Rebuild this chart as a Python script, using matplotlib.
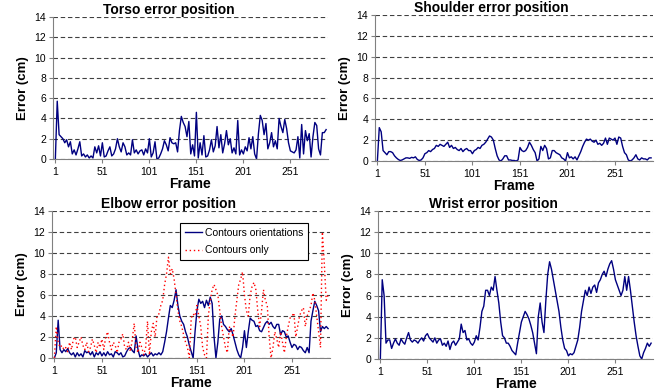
import matplotlib
matplotlib.use("Agg")
import matplotlib.pyplot as plt
import numpy as np

plt.rcParams['font.family'] = ['Liberation Sans', 'DejaVu Sans']

# error values, one every 2 frames (frames 1, 3, 5, ...)
torso = [0, 5.7, 2.4, 2.2, 2.0, 1.6, 1.9, 1.2, 1.7, 0.5, 0.9, 0.4, 1.0, 1.7, 0.3, 0.5, 0.2, 0.4, 0.1, 0.3,
         0.1, 1.2, 0.6, 1.3, 0.3, 1.6, 0.2, 0.3, 0.8, 1.2, 0.3, 0.5, 1.0, 2.0, 1.2, 0.7, 1.6, 1.2, 0.4, 0.6,
         0.4, 1.9, 0.6, 0.9, 0.5, 0.8, 0.9, 0.4, 1.0, 0.6, 2.0, 0.2, 0.6, 1.7, 0.0, 0.1, 0.5, 1.0, 1.8, 1.4,
         0.8, 2.1, 1.6, 1.5, 1.6, 0.7, 2.8, 4.2, 3.6, 3.2, 2.2, 3.7, 0.5, 1.4, 0.3, 4.6, 0.1, 1.6, 0.4, 2.3,
         0.2, 0.3, 0.9, 1.9, 0.7, 1.3, 3.2, 1.1, 2.4, 0.6, 1.5, 2.8, 1.4, 2.0, 0.6, 1.1, 0.5, 3.8, 0.4, 0.9,
         0.5, 1.2, 0.8, 2.1, 1.0, 2.2, 0.5, 0.0, 2.5, 4.3, 3.8, 2.4, 3.5, 1.0, 1.6, 2.6, 1.2, 1.8, 1.0, 4.0,
         3.2, 2.6, 3.9, 3.0, 1.6, 0.8, 0.7, 0.6, 0.9, 2.2, 0.1, 3.4, 0.5, 2.8, 1.8, 2.5, 0.2, 2.2, 3.6, 3.3,
         1.0, 0.4, 2.6, 2.6, 2.9]

shoulder = [0, 3.2, 2.8, 1.0, 0.8, 0.6, 0.9, 0.9, 0.8, 0.5, 0.3, 0.15, 0.05, 0.1, 0.2, 0.3, 0.3, 0.25, 0.35, 0.3,
            0.4, 0.15, 0.05, 0.1, 0.3, 0.7, 0.8, 1.0, 0.9, 1.1, 1.2, 1.5, 1.4, 1.6, 1.5, 1.4, 1.6, 1.8, 1.3, 1.5,
            1.2, 1.3, 1.1, 1.0, 1.2, 0.9, 1.1, 1.2, 1.0, 1.0, 0.7, 1.0, 1.1, 1.3, 1.2, 1.5, 1.6, 1.8, 2.1, 2.4,
            2.3, 2.0, 1.2, 0.5, 0.1, 0.0, 0.2, 0.5, 0.5, 0.1, 0.1, 0.05, 0.05, 0.0, 0.1, 1.3, 1.0, 0.9, 1.0, 1.3,
            1.8, 1.5, 1.1, 0.8, 0.0, 0.2, 1.4, 1.0, 1.5, 1.2, 0.2, 0.3, 1.0, 1.0, 0.8, 0.7, 0.6, 0.3, 0.2, 0.0,
            0.8, 0.3, 0.4, 0.2, 0.4, 0.1, 0.5, 0.9, 1.4, 1.8, 2.1, 2.0, 2.1, 1.9, 1.8, 2.0, 1.6, 1.7, 1.5, 1.7,
            2.2, 1.6, 2.2, 2.1, 2.0, 2.2, 1.6, 2.3, 2.2, 1.4, 0.8, 0.6, 0.1, 0.0, 0.1, 0.3, 0.6, 0.2, 0.1, 0.3,
            0.2, 0.2, 0.1, 0.3, 0.3]

elbow_orient = [0, 0.5, 3.6, 0.8, 0.5, 0.8, 0.6, 0.9, 0.5, 0.3, 0.5, 0.1, 0.5, 0.2, 0.4, 0.1, 0.7, 0.5, 0.6, 0.3,
                0.6, 0.1, 0.5, 0.3, 0.6, 0.2, 0.5, 0.2, 0.6, 0.3, 0.4, 0.1, 0.6, 0.5, 0.3, 0.5, 0.1, 0.2, 0.6, 0.9,
                1.0, 0.7, 0.5, 2.1, 0.8, 0.1, 0.3, 0.2, 0.4, 0.1, 0.3, 0.5, 0.2, 0.4, 0.3, 0.5, 0.3, 0.6, 1.5, 2.5,
                3.8, 5.0, 4.8, 5.5, 6.5, 5.0, 4.0, 3.5, 3.2, 2.5, 2.0, 1.2, 0.6, 0.0, 2.5, 4.5, 5.6, 5.2, 5.4, 4.8,
                5.5, 5.0, 5.8, 5.2, 2.0, 0.0, 1.5, 3.7, 4.0, 3.2, 3.0, 2.7, 2.5, 2.8, 2.2, 1.5, 0.8, 0.3, 0.0, 1.0,
                2.6, 1.0, 2.5, 3.8, 3.6, 3.5, 3.0, 3.1, 2.6, 2.5, 2.9, 3.3, 3.5, 3.2, 3.4, 3.0, 2.8, 3.2, 3.2, 2.2,
                2.6, 2.5, 2.0, 2.1, 1.5, 1.0, 1.3, 1.2, 0.8, 1.1, 1.0, 0.7, 0.5, 1.0, 0.5, 3.5, 4.5, 5.4, 5.0, 4.5,
                2.5, 3.0, 2.8, 3.0, 2.8]

elbow_contours = [0, 3.0, 1.5, 1.0, 1.2, 0.8, 1.0, 0.6, 1.5, 0.8, 1.8, 2.0, 1.0, 1.5, 2.0, 1.2, 0.8, 1.5, 0.6, 1.0,
                  1.8, 1.2, 0.5, 1.5, 1.0, 1.8, 0.8, 2.0, 2.5, 1.5, 0.8, 1.5, 1.2, 0.5, 1.5, 1.8, 2.3, 1.0, 0.8, 1.5,
                  0.6, 1.8, 3.3, 1.0, 0.5, 1.5, 1.0, 0.3, 1.0, 3.5, 0.3, 2.5, 3.3, 2.0, 4.0, 4.2, 5.0, 5.5, 7.0, 8.0,
                  9.6, 8.0, 8.5, 7.5, 6.0, 4.5, 3.5, 3.0, 2.2, 1.5, 1.0, 0.0, 3.8, 4.2, 4.0, 5.0, 4.0, 3.0, 1.0, 0.3,
                  0.0, 4.0, 5.5, 6.5, 7.0, 6.5, 6.0, 4.5, 3.0, 2.0, 1.0, 0.5, 3.0, 2.5, 2.0, 4.0, 5.5, 7.0, 7.5, 8.2,
                  6.0, 4.5, 4.0, 6.0, 6.8, 7.2, 6.5, 4.5, 3.0, 4.5, 6.5, 5.5, 5.0, 2.0, 0.0, 1.0, 2.5, 1.8, 1.0, 2.5,
                  1.5, 0.5, 2.0, 3.0, 3.8, 4.0, 4.3, 2.0, 3.0, 4.0, 4.5, 4.8, 3.0, 4.0, 4.5, 5.0, 6.2, 5.5, 4.0, 2.5,
                  1.0, 12.0, 9.0, 5.5, 6.0]

wrist = [0, 7.5, 6.0, 1.5, 1.8, 1.8, 1.0, 1.5, 1.9, 1.5, 1.3, 1.9, 1.6, 1.4, 2.0, 2.5, 1.8, 1.6, 1.8, 1.7,
         1.5, 1.8, 2.0, 1.7, 2.2, 2.4, 2.0, 1.8, 1.6, 2.0, 1.5, 1.8, 1.9, 1.3, 1.5, 1.2, 1.7, 0.9, 1.5, 1.7,
         1.3, 1.6, 1.9, 3.3, 2.5, 2.7, 1.8, 1.9, 1.5, 1.3, 1.6, 2.2, 1.8, 3.0, 4.5, 5.0, 6.5, 6.5, 6.0, 6.8,
         6.5, 7.8, 6.5, 5.3, 3.5, 2.2, 2.0, 1.5, 1.5, 1.2, 0.8, 0.6, 0.4, 1.5, 2.5, 3.5, 4.0, 4.5, 4.2, 3.8,
         3.2, 2.5, 1.5, 0.5, 4.0, 5.3, 3.5, 2.5, 5.5, 8.0, 9.2, 8.5, 7.5, 6.5, 5.5, 4.5, 3.0, 1.8, 1.0, 0.8,
         0.3, 0.5, 0.4, 0.6, 1.2, 1.8, 3.0, 4.5, 5.5, 6.5, 6.0, 6.8, 6.2, 6.8, 7.0, 6.3, 7.2, 7.5, 8.0, 8.3,
         7.8, 8.5, 9.0, 9.3, 8.5, 7.5, 7.0, 6.5, 6.0, 6.5, 7.8, 6.5, 7.8, 6.5, 5.0, 3.5, 2.2, 1.2, 0.3, 0.0,
         0.6, 1.0, 1.5, 1.2, 1.5]

tick_frames = [1, 51, 101, 151, 201, 251]
navy = '#000080'


def frames_of(vals):
    return 1 + 2 * np.arange(len(vals))


def style_axes(ax, title):
    ax.set_xlim(-1.5, 291)
    ax.set_ylim(0, 14)
    ax.set_yticks(np.arange(0, 15, 2))
    ax.set_xticks(tick_frames)
    ax.tick_params(labelsize=7.5, length=3, color='#808080', pad=2)
    ax.tick_params(axis='x', pad=3)
    ax.yaxis.grid(True, ls=(0, (4, 2.5)), color='#404040', lw=0.8)
    ax.set_axisbelow(True)
    for s in ['top', 'right']:
        ax.spines[s].set_visible(False)
    for s in ['left', 'bottom']:
        ax.spines[s].set_color('#808080')
    ax.set_title(title, fontsize=10, fontweight='bold', x=0.42, pad=1)
    ax.set_xlabel('Frame', fontsize=10, fontweight='bold', labelpad=0)
    ax.set_ylabel('Error (cm)', fontsize=9.5, fontweight='bold', labelpad=4)


fig = plt.figure(figsize=(6.63, 3.92), dpi=100)
W, H = 663.0, 392.0

ax1 = fig.add_axes([53 / W, 1 - 159 / H, 275 / W, 142 / H])
ax1.plot(frames_of(torso), torso, color=navy, lw=1)
style_axes(ax1, 'Torso error position')

ax2 = fig.add_axes([375 / W, 1 - 161 / H, 278 / W, 146 / H])
ax2.plot(frames_of(shoulder), shoulder, color=navy, lw=1)
style_axes(ax2, 'Shoulder error position')

ax3 = fig.add_axes([52 / W, 1 - 358 / H, 278 / W, 147 / H])
ax3.plot(frames_of(elbow_orient), elbow_orient, color=navy, lw=1, label='Contours orientations')
ax3.plot(frames_of(elbow_contours), elbow_contours, color='red', lw=1, ls=(0, (1, 2)), label='Contours only')
style_axes(ax3, 'Elbow error position')
leg = ax3.legend(loc='upper left', bbox_to_anchor=(0.46, 0.92), borderaxespad=0, fontsize=7.5,
                 frameon=True, fancybox=False, handlelength=1.6, handletextpad=0.3, borderpad=0.5,
                 labelspacing=0.7)
leg.get_frame().set_edgecolor('black')
leg.get_frame().set_linewidth(0.8)
leg.get_frame().set_alpha(1)

ax4 = fig.add_axes([378 / W, 1 - 359 / H, 275 / W, 148 / H])
ax4.plot(frames_of(wrist), wrist, color=navy, lw=1)
style_axes(ax4, 'Wrist error position')

plt.savefig('out.png', dpi=100)
